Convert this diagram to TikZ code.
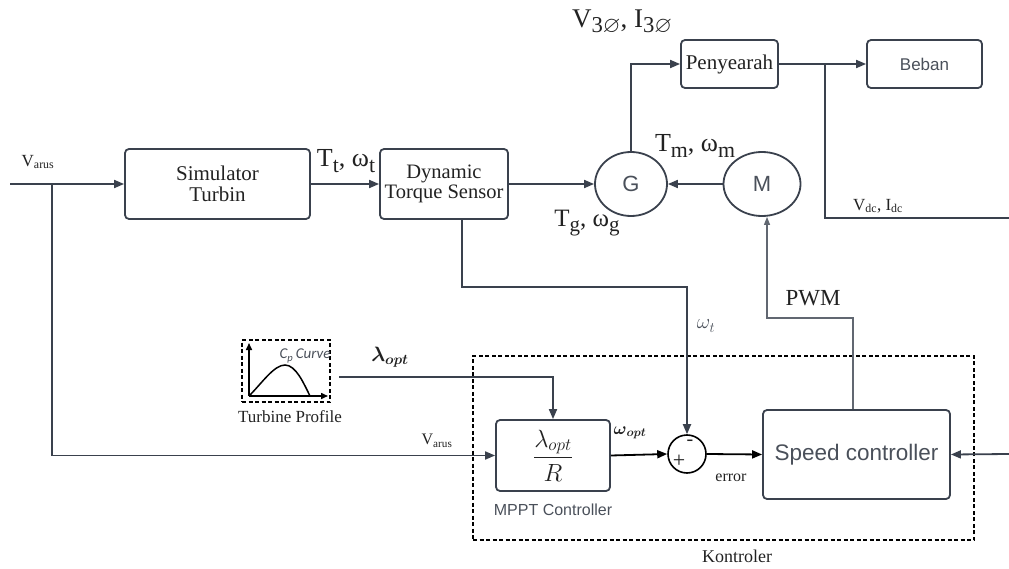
\documentclass[tikz,border=0pt]{standalone}
\usepackage{amsmath,amssymb,graphicx}
\usepackage{fontspec}
\setmainfont{Liberation Serif}
\newfontfamily\sansf{Liberation Sans}
\newfontfamily\calf{Carlito}
\usetikzlibrary{arrows.meta,shapes.geometric,calc}
\definecolor{ln}{HTML}{3A414D}
\definecolor{txt}{HTML}{222222}
\definecolor{stxt}{HTML}{4A505A}
\newcommand{\fs}[1]{\fontsize{#1}{#1}\selectfont}
\newcommand{\sbs}[1]{\textsubscript{#1}}
\newcommand{\bsb}[1]{\raisebox{-0.2em}{\scalebox{0.84}{#1}}}
\tikzset{
  blk/.style={draw=ln,line width=1.8pt,rounded corners=4pt,align=center,text=txt,font=\fs{21}},
  circ/.style={draw=ln,line width=1.8pt,ellipse,inner sep=0pt,font=\sansf\fs{22},text=stxt},
  wire/.style={draw=ln,line width=1.8pt},
  arr/.style={wire,-{Triangle[length=10pt,width=8pt]}},
  thin/.style={draw=ln!80,line width=1.1pt},
  lbl/.style={text=txt,inner sep=0pt},
  dashbox/.style={draw=black,line width=1.3pt,dash pattern=on 4pt off 2.5pt},
}
\begin{document}
\begin{tikzpicture}[x=1pt,y=-1pt]
\useasboundingbox (0,0) rectangle (1009,569);
% blocks
\node[blk,minimum width=185pt,minimum height=70pt] (sim) at (217.5,184) {Simulator\\Turbin};
\node[blk,minimum width=128pt,minimum height=70pt,font=\fs{20.5}] (dts) at (444,184) {Dynamic\\Torque Sensor};
\node[circ,minimum width=72pt,minimum height=64pt] (G) at (631,184) {G};
\node[circ,minimum width=77pt,minimum height=64pt] (M) at (762,184) {M};
\node[blk,minimum width=97pt,minimum height=48pt] (pen) at (729.5,64) {Penyearah};
\node[blk,minimum width=115pt,minimum height=48pt,font=\sansf\fs{17},text=stxt] (beban) at (924.5,64) {Beban};
\node[blk,minimum width=114pt,minimum height=71pt,font=\fs{26}] (mppt) at (553,455.5) {$\dfrac{\lambda_{opt}}{R}$};
\node[draw=black,line width=1.6pt,circle,minimum size=38pt,inner sep=0pt] (sum) at (687,454) {};
\node[blk,minimum width=187pt,minimum height=89pt,font=\sansf\fs{22.5},text=stxt] (spc) at (856.5,454.5) {Speed controller};
\node[dashbox,minimum width=88pt,minimum height=62pt] (tp) at (286,371) {};
\node[dashbox,minimum width=501pt,minimum height=184pt] (kon) at (723.5,448) {};
% Cp curve
\coordinate (o) at (249,396);
\draw[black,line width=1.5pt,-{Triangle[length=7pt,width=6pt]}] (o) -- (249,343);
\draw[black,line width=1.5pt,-{Triangle[length=7pt,width=6pt]}] (o) -- (328,396);
\draw[black,line width=1.5pt] (o) .. controls (262,383) and (274,365) .. (285,365) .. controls (296,365) and (304,384) .. (310,396);
\node[font=\calf\itshape\fs{15},text=stxt,inner sep=0pt] (cp) at (305,356) {C\textsubscript{p}\,Curve};
% connectors
\coordinate (vin) at (10,184);
\coordinate (vj) at (52,184);
\draw[arr] (vin) -- (sim.west);
\draw[arr] (vj) |- (mppt.west);
\draw[arr] (sim.east) -- (dts.west);
\draw[arr] (dts.east) -- (G.west);
\draw[arr] (M.west) -- (G.east);
\draw[arr] (G.north) |- (pen.west);
\draw[arr] (pen.east) -- (beban.west);
\coordinate (tap) at (825,64);
\coordinate (vdcend) at (1009,218);
\draw[wire] (tap) |- (vdcend);
\coordinate (wc) at (687,287);
\draw[arr] ([xshift=18pt]dts.south) |- (wc) -- (sum.north);
\coordinate (pc) at (767,318);
\draw[thin,-{Triangle[length=8pt,width=6pt]}] ([xshift=-3.5pt]spc.north) |- (pc) -- ([xshift=5pt]M.south);
\coordinate (lam) at (339,377);
\draw[arr] (lam) -| (mppt.north);
\draw[wire,-{Triangle[length=10pt,width=8pt]},draw=black] (mppt.east) -- (sum.west);
\draw[wire,-{Triangle[length=10pt,width=8pt]},draw=black] (sum.east) -- (spc.west);
\coordinate (rin) at (1009,454);
\draw[arr] (rin) -- (spc.east);
% labels
\node[lbl,font=\fs{17}] (l1) at (38,162) {V\sbs{arus}};
\node[lbl,font=\fs{26}] (l2) at (346,161) {T\bsb{t}, ω\bsb{t}};
\node[lbl,font=\fs{27}] (l3) at (622,22) {V\bsb{3$\varnothing$}, I\bsb{3$\varnothing$}};
\node[lbl,font=\fs{26}] (l4) at (695,146) {T\bsb{m}, ω\bsb{m}};
\node[lbl,font=\fs{25}] (l5) at (587,223) {T\bsb{g}, ω\bsb{g}};
\node[lbl,font=\fs{17}] (l6) at (878,206) {V\sbs{dc}, I\sbs{dc}};
\node[lbl,font=\fs{20},text=stxt] (l7) at (706,326) {$\omega_t$};
\node[lbl,font=\fs{23}] (l8) at (813,298) {PWM};
\node[lbl,font=\fs{20}] (l9) at (390,357) {$\boldsymbol{\lambda}_{\boldsymbol{opt}}$};
\node[lbl,font=\fs{17}] (l10) at (290,417) {Turbine Profile};
\node[lbl,font=\fs{16}] (l11) at (437,441) {V\sbs{arus}};
\node[lbl,font=\fs{18}] (l12) at (630,433) {$\boldsymbol{\omega}_{\boldsymbol{opt}}$};
\node[lbl,font=\fs{16}] (l13) at (731,478) {error};
\node[lbl,font=\sansf\fs{16},text=stxt] (l14) at (553,510) {MPPT Controller};
\node[lbl,font=\fs{18}] (l15) at (737,556) {Kontroler};
\node[lbl,font=\fs{22}] (plus) at (679,461) {+};
\node[lbl,font=\fs{20}] (minus) at (690,443) {-};
\end{tikzpicture}
\end{document}
